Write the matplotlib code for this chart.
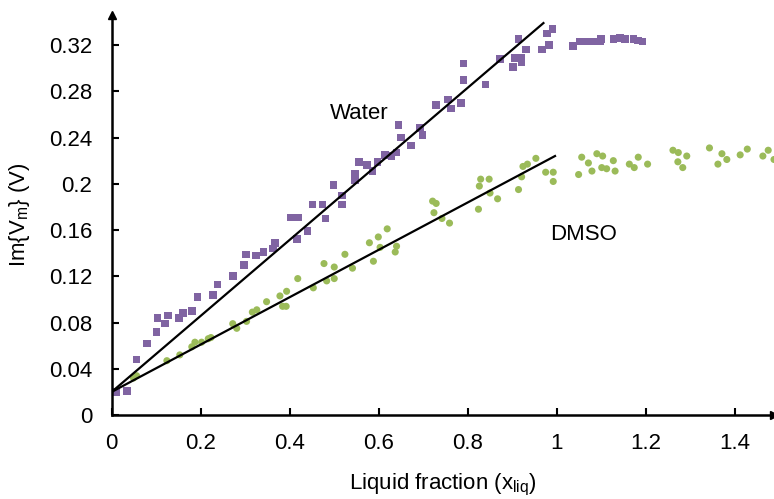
import matplotlib.pyplot as plt

plt.rcParams['font.family'] = ['Liberation Sans', 'DejaVu Sans']

# Water (purple squares)
water_x = [0.0, 0.01, 0.034, 0.056, 0.079, 0.101, 0.103, 0.12, 0.127, 0.151, 0.16, 0.18,
           0.193, 0.227, 0.238, 0.272, 0.297, 0.302, 0.324, 0.341, 0.363, 0.367, 0.402,
           0.416, 0.42, 0.416, 0.44, 0.451, 0.474, 0.48, 0.498, 0.518, 0.518, 0.547, 0.547,
           0.555, 0.574, 0.586, 0.597, 0.614, 0.629, 0.64, 0.644, 0.65, 0.673, 0.693, 0.698,
           0.729, 0.756, 0.762, 0.785, 0.79, 0.79, 0.84, 0.873, 0.902, 0.906, 0.914, 0.921,
           0.921, 0.931, 0.967, 0.978, 0.983, 0.99, 1.037, 1.052, 1.067, 1.079, 1.097, 1.1,
           1.127, 1.142, 1.153, 1.172, 1.183, 1.193]
water_y = [0.02, 0.02, 0.021, 0.048, 0.062, 0.072, 0.084, 0.079, 0.086, 0.084, 0.088, 0.09,
           0.102, 0.104, 0.113, 0.12, 0.13, 0.139, 0.138, 0.141, 0.144, 0.149, 0.171,
           0.171, 0.171, 0.152, 0.159, 0.182, 0.182, 0.17, 0.199, 0.19, 0.182, 0.209, 0.203,
           0.219, 0.216, 0.211, 0.219, 0.225, 0.224, 0.227, 0.251, 0.24, 0.233, 0.248, 0.242,
           0.268, 0.273, 0.265, 0.27, 0.304, 0.29, 0.286, 0.308, 0.301, 0.309, 0.325, 0.309,
           0.305, 0.316, 0.316, 0.33, 0.32, 0.334, 0.319, 0.323, 0.323, 0.323, 0.323, 0.325,
           0.325, 0.326, 0.325, 0.325, 0.324, 0.323]

# DMSO (green circles)
dmso_x = [0.0, 0.049, 0.056, 0.124, 0.153, 0.18, 0.187, 0.202, 0.217, 0.223, 0.272, 0.281,
          0.303, 0.316, 0.326, 0.348, 0.378, 0.384, 0.392, 0.393, 0.418, 0.453, 0.477, 0.483,
          0.5, 0.5, 0.524, 0.541, 0.579, 0.588, 0.599, 0.603, 0.619, 0.637, 0.64, 0.721,
          0.729, 0.724, 0.742, 0.759, 0.824, 0.826, 0.829, 0.848, 0.85, 0.867, 0.914, 0.921,
          0.924, 0.934, 0.953, 0.975, 0.992, 0.992, 1.049, 1.056, 1.071, 1.079, 1.09, 1.103,
          1.101, 1.112, 1.127, 1.131, 1.163, 1.174, 1.183, 1.204, 1.261, 1.273, 1.272, 1.283,
          1.292, 1.343, 1.371, 1.362, 1.382, 1.412, 1.428, 1.463, 1.475, 1.488]
dmso_y = [0.02, 0.032, 0.034, 0.047, 0.052, 0.059, 0.063, 0.063, 0.066, 0.067, 0.079, 0.075,
          0.081, 0.089, 0.091, 0.098, 0.103, 0.094, 0.094, 0.107, 0.118, 0.11, 0.131, 0.116,
          0.128, 0.118, 0.139, 0.127, 0.149, 0.133, 0.154, 0.145, 0.161, 0.141, 0.146, 0.185,
          0.183, 0.175, 0.17, 0.166, 0.178, 0.198, 0.204, 0.204, 0.192, 0.187, 0.195, 0.206,
          0.215, 0.217, 0.222, 0.21, 0.21, 0.202, 0.208, 0.223, 0.218, 0.211, 0.226, 0.224,
          0.214, 0.213, 0.22, 0.211, 0.217, 0.214, 0.223, 0.217, 0.229, 0.227, 0.219, 0.214,
          0.224, 0.231, 0.226, 0.217, 0.221, 0.225, 0.23, 0.224, 0.229, 0.221]

# linear fits
water_fit_x = [0.0, 0.97]
water_fit_y = [0.02, 0.339]
dmso_fit_x = [0.0, 0.996]
dmso_fit_y = [0.02, 0.224]

x_ticks = [0, 0.2, 0.4, 0.6, 0.8, 1.0, 1.2, 1.4]
x_labels = ['0', '0.2', '0.4', '0.6', '0.8', '1', '1.2', '1.4']
y_ticks = [0, 0.04, 0.08, 0.12, 0.16, 0.2, 0.24, 0.28, 0.32]
y_labels = ['0', '0.04', '0.08', '0.12', '0.16', '0.2', '0.24', '0.28', '0.32']

fs = 16

fig = plt.figure(figsize=(7.74, 4.99), dpi=100)
ax = fig.add_axes([0.1443, 0.1683, 0.8557, 0.8017])

ax.scatter(dmso_x, dmso_y, marker='o', s=26, color='#9BBB59', edgecolors='none', zorder=2)
ax.scatter(water_x, water_y, marker='s', s=30, color='#8064A2', edgecolors='none', zorder=2)
ax.plot(water_fit_x, water_fit_y, color='black', lw=1.6, zorder=3)
ax.plot(dmso_fit_x, dmso_fit_y, color='black', lw=1.6, zorder=3)

ax.text(0.556, 0.256, 'Water', fontsize=fs, ha='center', va='baseline')
ax.text(1.06, 0.1515, 'DMSO', fontsize=fs, ha='center', va='baseline')

ax.set_xlim(0, 1.488)
ax.set_ylim(0, 0.346)
ax.set_xticks(x_ticks)
ax.set_xticklabels(x_labels)
ax.set_yticks(y_ticks)
ax.set_yticklabels(y_labels)
ax.tick_params(direction='in', length=5, width=1.5, labelsize=fs)
ax.tick_params(axis='y', pad=14)
ax.tick_params(axis='x', pad=13)

for s in ['top', 'right']:
    ax.spines[s].set_visible(False)
for s in ['left', 'bottom']:
    ax.spines[s].set_linewidth(1.8)

# arrow heads on axes
ax.plot(0, 1, marker='^', color='black', ms=6, transform=ax.transAxes, clip_on=False)
ax.plot(1, 0, marker='>', color='black', ms=6, transform=ax.transAxes, clip_on=False)

ax.set_xlabel('Liquid fraction (x$_{\\mathregular{liq}}$)', fontsize=fs, labelpad=13)
ax.set_ylabel('Im{V$_{\\mathregular{m}}$} (V)', fontsize=fs, labelpad=12)

fig.savefig('out.png', dpi=100)
